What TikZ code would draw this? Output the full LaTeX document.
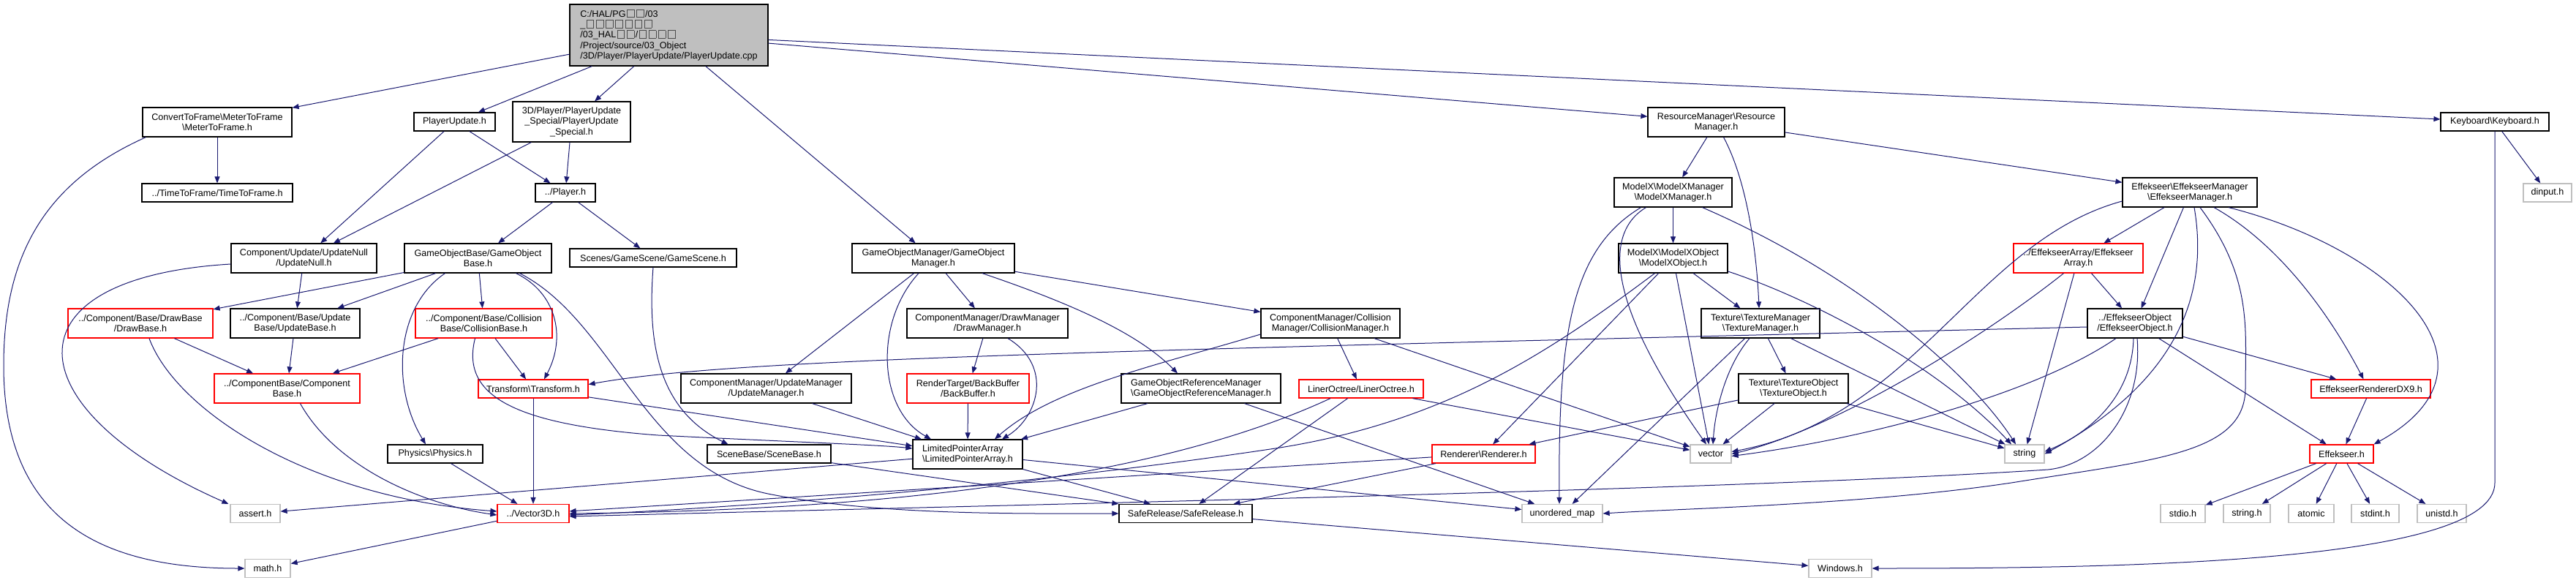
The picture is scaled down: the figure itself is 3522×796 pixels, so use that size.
\documentclass[tikz,border=0pt]{standalone}
\usepackage{fontspec}
\setmainfont{Liberation Sans}
\usetikzlibrary{arrows.meta}
\definecolor{edgeblue}{HTML}{191970}
\definecolor{sysgray}{HTML}{BFBFBF}
\newcommand{\bs}{\textbackslash}
\newcommand{\tofu}{\kern1.5pt{\setlength{\fboxsep}{0pt}\setlength{\fboxrule}{0.6pt}\textcolor{black!70}{\fbox{\rule{0pt}{10pt}\hspace{9pt}}}}\kern1.5pt}

\begin{document}
\begin{tikzpicture}[x=1pt,y=-1pt,
  hdr/.style={draw=black,line width=1.2pt,fill=white,inner sep=0pt,align=center,font=\fontsize{12.6}{14.3}\selectfont},
  redhdr/.style={hdr,draw=red},
  syshdr/.style={hdr,draw=sysgray},
  srcfile/.style={hdr,fill=sysgray,align=left},
  one/.style={minimum height=25pt},
  two/.style={minimum height=40pt},
  dep/.style={draw=edgeblue,line width=1pt,-{Triangle[length=9pt,width=7pt]}}]
\useasboundingbox (0,0) rectangle (3522,796);

% top rows
\node[srcfile,minimum width=271pt,minimum height=84pt] (root) at (914.5,48) {C:/HAL/PG\tofu\tofu/03\\\_\tofu\tofu\tofu\tofu\tofu\tofu\tofu\\/03\_HAL\tofu\tofu/\tofu\tofu\tofu\tofu\\/Project/source/03\_Object\\/3D/Player/PlayerUpdate/PlayerUpdate.cpp};
\node[hdr,two,minimum width=204pt] (mtf) at (297,167) {ConvertToFrame\bs MeterToFrame\\\bs MeterToFrame.h};
\node[hdr,one,minimum width=111pt] (puh) at (621.5,166.5) {PlayerUpdate.h};
\node[hdr,minimum width=161pt,minimum height=55pt] (pus) at (781.5,166.5) {3D/Player/PlayerUpdate\\\_Special/PlayerUpdate\\\_Special.h};
\node[hdr,two,minimum width=187pt] (rsm) at (2346.5,167) {ResourceManager\bs Resource\\Manager.h};
\node[hdr,one,minimum width=148pt] (kbd) at (3411,166.5) {Keyboard\bs Keyboard.h};
\node[hdr,one,minimum width=206pt] (ttf) at (297,263.5) {../TimeToFrame/TimeToFrame.h};
\node[hdr,one,minimum width=82pt] (ply) at (773,263.5) {../Player.h};
\node[hdr,two,minimum width=161pt] (mxm) at (2287.5,263) {ModelX\bs ModelXManager\\\bs ModelXManager.h};
\node[hdr,two,minimum width=184pt] (efm) at (2994,263) {Effekseer\bs EffekseerManager\\\bs EffekseerManager.h};
\node[syshdr,one,minimum width=66pt] (din) at (3483,263.5) {dinput.h};

% middle rows
\node[hdr,two,minimum width=199pt] (unull) at (415.5,353) {Component/Update/UpdateNull\\/UpdateNull.h};
\node[hdr,two,minimum width=201pt] (gob) at (653.5,353) {GameObjectBase/GameObject\\Base.h};
\node[hdr,one,minimum width=228pt] (gsc) at (893,352.5) {Scenes/GameScene/GameScene.h};
\node[hdr,two,minimum width=222pt] (gom) at (1276,353) {GameObjectManager/GameObject\\Manager.h};
\node[hdr,two,minimum width=149pt] (mxo) at (2287.5,353) {ModelX\bs ModelXObject\\\bs ModelXObject.h};
\node[redhdr,two,minimum width=177pt] (efa) at (2841.5,353) {../EffekseerArray/Effekseer\\Array.h};
\node[redhdr,two,minimum width=198pt] (drb) at (192,442) {../Component/Base/DrawBase\\/DrawBase.h};
\node[hdr,two,minimum width=177pt] (upb) at (403.5,442) {../Component/Base/Update\\Base/UpdateBase.h};
\node[redhdr,two,minimum width=187pt] (clb) at (661.5,442) {../Component/Base/Collision\\Base/CollisionBase.h};
\node[hdr,two,minimum width=220pt] (drm) at (1350,442) {ComponentManager/DrawManager\\/DrawManager.h};
\node[hdr,two,minimum width=190pt] (clm) at (1819,442) {ComponentManager/Collision\\Manager/CollisionManager.h};
\node[hdr,two,minimum width=162pt] (txm) at (2407,442) {Texture\bs TextureManager\\\bs TextureManager.h};
\node[hdr,two,minimum width=130pt] (efo) at (2919,442) {../EffekseerObject\\/EffekseerObject.h};
\node[redhdr,two,minimum width=199pt] (cpb) at (392.5,531) {../ComponentBase/Component\\Base.h};
\node[redhdr,one,minimum width=150pt] (trf) at (729,531.5) {Transform\bs Transform.h};
\node[hdr,two,minimum width=233pt] (upm) at (1047.5,531) {ComponentManager/UpdateManager\\/UpdateManager.h};
\node[redhdr,two,minimum width=167pt] (bbf) at (1323.5,531) {RenderTarget/BackBuffer\\/BackBuffer.h};
\node[hdr,two,minimum width=218pt,align=left] (grm) at (1642,531) {GameObjectReferenceManager\\\bs GameObjectReferenceManager.h};
\node[redhdr,one,minimum width=170pt] (lot) at (1861,531.5) {LinerOctree/LinerOctree.h};
\node[hdr,two,minimum width=150pt] (txo) at (2452,531) {Texture\bs TextureObject\\\bs TextureObject.h};
\node[redhdr,one,minimum width=163pt] (erd) at (3241.5,531.5) {EffekseerRendererDX9.h};
\node[hdr,one,minimum width=130pt] (phy) at (595,620.5) {Physics\bs Physics.h};
\node[hdr,one,minimum width=169pt] (scb) at (1051.5,620.5) {SceneBase/SceneBase.h};
\node[hdr,two,minimum width=150pt,align=left] (lpa) at (1323,621) {LimitedPointerArray\\\bs LimitedPointerArray.h};
\node[redhdr,one,minimum width=141pt] (rnd) at (2028.5,620.5) {Renderer\bs Renderer.h};
\node[syshdr,one,minimum width=56pt] (vec) at (2339,620.5) {vector};
\node[syshdr,one,minimum width=54pt] (str) at (2768,620.5) {string};
\node[redhdr,one,minimum width=87pt] (efk) at (3201.5,620.5) {Effekseer.h};

% bottom rows
\node[syshdr,one,minimum width=68pt] (ast) at (349,702) {assert.h};
\node[redhdr,one,minimum width=98pt] (v3d) at (729,702) {../Vector3D.h};
\node[hdr,one,minimum width=182pt] (sfr) at (1621,702) {SafeRelease/SafeRelease.h};
\node[syshdr,one,minimum width=110pt] (umap) at (2136,702) {unordered\_map};
\node[syshdr,one,minimum width=61pt] (stdio) at (2984.5,702) {stdio.h};
\node[syshdr,one,minimum width=64pt] (strh) at (3072,702) {string.h};
\node[syshdr,one,minimum width=62pt] (atom) at (3160,702) {atomic};
\node[syshdr,one,minimum width=65pt] (sint) at (3247.5,702) {stdint.h};
\node[syshdr,one,minimum width=67pt] (unis) at (3338.5,702) {unistd.h};
\node[syshdr,one,minimum width=62pt] (mth) at (366,777) {math.h};
\node[syshdr,one,minimum width=86pt] (win) at (2516,777) {Windows.h};

% PlayerUpdate.cpp
\draw[dep] (root) -- (mtf);
\draw[dep] (root) -- (puh);
\draw[dep] (root) -- (pus);
\draw[dep] (root) -- (gom);
\draw[dep] (root) -- (rsm);
\draw[dep] (root) -- (kbd);
\draw[dep] (mtf) -- (ttf);
\draw[dep] ([xshift=5pt]mtf.south west) .. controls (60,250) and (5,350) .. (5,500) .. controls (5,720) and (150,777) .. (mth.west);
\draw[dep] (puh) -- (unull);
\draw[dep] (puh) -- (ply);
\draw[dep] (pus) -- (unull);
\draw[dep] (pus) -- (ply);
\draw[dep] (ply) -- (gob);
\draw[dep] (ply) -- (gsc);
\draw[dep] (unull) -- (upb);
\draw[dep] ([yshift=-8pt]unull.west) .. controls (0,380) and (20,560) .. ([xshift=-2pt]ast.north west);

% GameObjectBase
\draw[dep] (gob) -- (drb);
\draw[dep] (gob) -- (upb);
\draw[dep] ([xshift=-45pt]gob.south) .. controls (540,420) and (535,530) .. ([xshift=-13pt]phy.north);
\draw[dep] (gob) -- (clb);
\draw[dep] ([xshift=52pt]gob.south) .. controls (760,400) and (775,460) .. ([xshift=15pt]trf.north);
\draw[dep] ([xshift=57pt]gob.south) .. controls (840,440) and (880,640) .. (1050,675) .. controls (1200,705) and (1400,702) .. (sfr.west);
\draw[dep] (drb) -- (cpb);
\draw[dep] ([xshift=12pt]drb.south) .. controls (240,560) and (420,680) .. ([yshift=3pt]v3d.west);
\draw[dep] (upb) -- (cpb);
\draw[dep] (clb) -- (cpb);
\draw[dep] (clb) -- (trf);
\draw[dep] ([xshift=-12pt]clb.south) .. controls (630,540) and (700,580) .. (900,595) .. controls (1100,605) and (1200,608) .. ([yshift=8pt]lpa.west);
\draw[dep] ([xshift=18pt]cpb.south) .. controls (460,640) and (580,690) .. ([yshift=-2pt]v3d.west);
\draw[dep] (trf) -- (v3d);
\draw[dep] (trf) -- (lpa);
\draw[dep] (phy) -- (v3d);
\draw[dep] (v3d) -- (mth);
\draw[dep] (gsc.south) .. controls (885,470) and (900,560) .. ([xshift=-56pt]scb.north);
\draw[dep] (scb) -- (sfr);

% GameObjectManager
\draw[dep] (gom) -- (upm);
\draw[dep] ([xshift=-20pt]gom.south) .. controls (1195,440) and (1200,560) .. ([xshift=-50pt]lpa.north);
\draw[dep] (gom) -- (drm);
\draw[dep] ([xshift=67pt]gom.south) .. controls (1480,420) and (1560,460) .. ([xshift=-32pt]grm.north);
\draw[dep] (gom) -- (clm);
\draw[dep] (upm) -- (lpa);
\draw[dep] (drm) -- (bbf);
\draw[dep] ([xshift=28pt]drm.south) .. controls (1440,500) and (1420,570) .. ([xshift=47pt]lpa.north);
\draw[dep] (bbf) -- (lpa);
\draw[dep] (grm) -- (lpa);
\draw[dep] (grm) -- (umap);
\draw[dep] ([yshift=-15pt]clm.west) .. controls (1580,500) and (1440,530) .. ([xshift=37pt]lpa.north);
\draw[dep] (clm) -- (lot);
\draw[dep] (clm) -- (vec);
\draw[dep] ([xshift=-42pt]lot.south) .. controls (1560,665) and (1150,698) .. (v3d.east);
\draw[dep] (lot) -- (sfr);
\draw[dep] (lot) -- (vec);
\draw[dep] (lpa) -- (ast);
\draw[dep] (lpa) -- (sfr);
\draw[dep] (lpa) -- (umap);
\draw[dep] (sfr) -- (win);

% ResourceManager
\draw[dep] (rsm) -- (mxm);
\draw[dep] ([xshift=10pt]rsm.south) .. controls (2390,250) and (2402,350) .. ([xshift=-2pt]txm.north);
\draw[dep] (rsm) -- (efm);
\draw[dep] (mxm) -- (mxo);
\draw[dep] ([xshift=-37pt]mxm.south) .. controls (2190,320) and (2200,420) .. ([xshift=-6pt]vec.north);
\draw[dep] ([xshift=-44pt]mxm.south) .. controls (2150,340) and (2130,450) .. ([xshift=-4pt]umap.north);
\draw[dep] ([xshift=40pt]mxm.south) .. controls (2550,380) and (2700,520) .. ([xshift=-12pt]str.north);
\draw[dep] (mxo) -- (rnd);
\draw[dep] ([xshift=-25pt]mxo.south) .. controls (2120,480) and (1980,575) .. (1750,612) .. controls (1400,665) and (1000,695) .. ([yshift=-2pt]v3d.east);
\draw[dep] (mxo) -- (vec);
\draw[dep] (mxo) -- (txm);
\draw[dep] ([yshift=-18pt]mxo.east) .. controls (2480,410) and (2650,500) .. ([xshift=-18pt]str.north);
\draw[dep] (txm) -- (txo);
\draw[dep] ([xshift=-15pt]txm.south) .. controls (2360,500) and (2345,560) .. ([xshift=3pt]vec.north);
\draw[dep] (txm) -- (umap);
\draw[dep] (txm) -- (str);
\draw[dep] (txo) -- (vec);
\draw[dep] (txo) -- (str);
\draw[dep] (txo) -- (rnd);
\draw[dep] (rnd) -- (v3d);
\draw[dep] (rnd) -- (sfr);

% Keyboard
\draw[dep] (kbd) -- (din);
\draw[dep] (kbd.south) -- (3411,660) .. controls (3411,770) and (2900,777) .. (win.east);

% EffekseerManager
\draw[dep] ([yshift=-12pt]efm.west) .. controls (2700,330) and (2620,570) .. ([yshift=3pt]vec.east);
\draw[dep] (efm) -- (efa);
\draw[dep] (efm) -- (efo);
\draw[dep] ([xshift=6pt]efm.south) .. controls (3020,400) and (2980,520) .. (str.east);
\draw[dep] ([xshift=14pt]efm.south) .. controls (3080,380) and (3070,450) .. (3070,530) .. controls (3070,620) and (2950,628) .. (2750,660) .. controls (2550,690) and (2300,695) .. (umap.east);
\draw[dep] ([xshift=33pt]efm.south) .. controls (3110,330) and (3180,420) .. ([xshift=-10pt]erd.north);
\draw[dep] ([xshift=53pt]efm.south) .. controls (3270,340) and (3440,500) .. (efk.north east);
\draw[dep] (efa) -- (str);
\draw[dep] ([xshift=-20pt]efa.south) .. controls (2700,470) and (2500,590) .. (vec.east);
\draw[dep] (efa) -- (efo);
\draw[dep] ([yshift=-5pt]efo.west) .. controls (1500,480) and (1000,490) .. ([yshift=6pt]trf.east);
\draw[dep] ([xshift=-26pt]efo.south) .. controls (2780,540) and (2550,600) .. ([yshift=-3pt]vec.east);
\draw[dep] ([xshift=-2pt]efo.south) .. controls (2915,540) and (2860,590) .. ([yshift=3pt]str.east);
\draw[dep] ([xshift=3pt]efo.south) .. controls (2930,560) and (2870,635) .. (2800,642) .. controls (2400,668) and (1600,685) .. ([yshift=-4pt]v3d.east);
\draw[dep] (efo) -- (erd);
\draw[dep] (efo) -- (efk);
\draw[dep] (erd) -- (efk);
\draw[dep] (efk) -- (stdio);
\draw[dep] (efk) -- (strh);
\draw[dep] (efk) -- (atom);
\draw[dep] (efk) -- (sint);
\draw[dep] (efk) -- (unis);
\end{tikzpicture}
\end{document}
